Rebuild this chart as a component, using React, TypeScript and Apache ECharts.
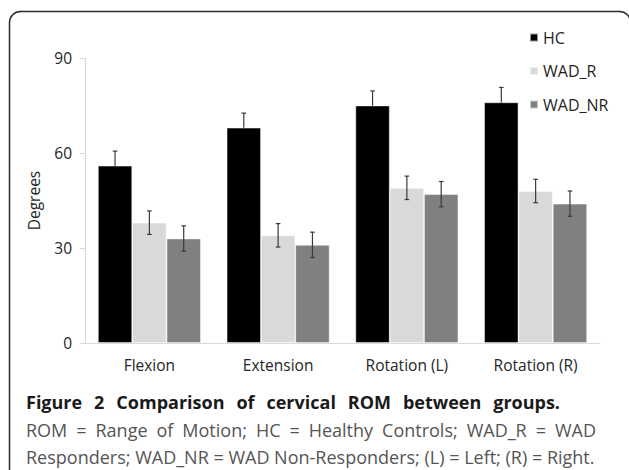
import React, { useEffect, useRef } from "react";
import * as echarts from "echarts";

const categories = ["Flexion", "Extension", "Rotation (L)", "Rotation (R)"];
const seriesNames = ["HC", "WAD_R", "WAD_NR"];
const hcValues = [56, 68, 75, 76];
const wadRValues = [38, 34, 49, 48];
const wadNrValues = [33, 31, 47, 44];
const hcErrors = [4.6, 4.6, 4.6, 4.7];
const wadRErrors = [3.7, 3.7, 3.7, 3.7];
const wadNrErrors = [4, 4, 4, 4];
const yTicks = [0, 30, 60, 90];
const titleText = "Figure 2 Comparison of cervical ROM between groups.";
const captionLines = [
  "ROM = Range of Motion; HC = Healthy Controls; WAD_R = WAD",
  "Responders; WAD_NR = WAD Non-Responders; (L) = Left; (R) = Right.",
];

const FONT = '"Open Sans", "DejaVu Sans", sans-serif';
const barColors = ["#000000", "#d9d9d9", "#808080"];

function justified(
  text: string,
  size: number,
  weight: string,
  x0: number,
  x1: number | null,
  y: number,
  fill: string
) {
  const canvas = document.createElement("canvas");
  const ctx = canvas.getContext("2d")!;
  ctx.font = `${weight} ${size}px ${FONT}`;
  const words = text.split(" ");
  const widths = words.map((w) => ctx.measureText(w).width);
  const spaceW = ctx.measureText(" ").width;
  const total = widths.reduce((a, b) => a + b, 0);
  const gap = x1 === null ? spaceW : (x1 - x0 - total) / (words.length - 1);
  let x = x0;
  return words.map((w, i) => {
    const el = {
      type: "text",
      x,
      y,
      silent: true,
      style: {
        text: w,
        fontSize: size,
        fontFamily: FONT,
        fontWeight: weight,
        fill,
        align: "left",
        verticalAlign: "middle",
        textAlign: "left",
        textVerticalAlign: "middle",
      },
    };
    x += widths[i] + gap;
    return el;
  });
}

function errorSeries(idx: number, values: number[], errors: number[]) {
  return {
    type: "custom",
    name: seriesNames[idx] + "_err",
    data: values.map((v, i) => [i, v, errors[i]]),
    encode: { x: 0, y: 1 },
    z: idx === 0 ? 1 : 10,
    silent: true,
    renderItem: (params: any, api: any) => {
      const ci = api.value(0);
      const v = api.value(1);
      const e = api.value(2);
      const band = api.size([1, 0])[0];
      const bw = (band * 0.8) / 3;
      const offset = (idx - 1) * bw;
      const top = api.coord([ci, v + e]);
      const bot = api.coord([ci, v - e]);
      const x = top[0] + offset;
      const h = 2.3;
      const st = { stroke: "#3a3a3a", lineWidth: 1.2 };
      return {
        type: "group",
        children: [
          { type: "line", shape: { x1: x, y1: top[1], x2: x, y2: bot[1] }, style: st },
          { type: "line", shape: { x1: x - h, y1: top[1], x2: x + h, y2: top[1] }, style: st },
          { type: "line", shape: { x1: x - h, y1: bot[1], x2: x + h, y2: bot[1] }, style: st },
        ],
      };
    },
  };
}

export default function App() {
  const ref = useRef<HTMLDivElement>(null);
  useEffect(() => {
    if (!ref.current) return;
    const chart = echarts.init(ref.current, null, { renderer: "svg" });
    const valuesList = [hcValues, wadRValues, wadNrValues];
    const errorsList = [hcErrors, wadRErrors, wadNrErrors];
    const graphics: any[] = [
      {
        type: "rect",
        silent: true,
        z: -1,
        shape: { x: 9.5, y: 11.5, width: 621, height: 540, r: 11 },
        style: { fill: "none", stroke: "#2b2b2b", lineWidth: 1.5 },
      },
      ...justified(titleText, 18, "bold", 26, 560, 401.5, "#1a1a1a"),
      ...justified(captionLines[0], 18, "normal", 26, 596, 430, "#555555"),
      ...justified(captionLines[1], 18, "normal", 26, null, 456.5, "#555555"),
    ];
    chart.setOption({
      animation: false,
      textStyle: { fontFamily: FONT },
      grid: { left: 85, right: 29, top: 58, bottom: 127, containLabel: false },
      legend: {
        data: seriesNames,
        orient: "vertical",
        left: 524,
        top: 24,
        icon: "rect",
        itemWidth: 8,
        itemHeight: 8,
        itemGap: 16.5,
        textStyle: { fontSize: 16, color: "#1f1f1f", fontFamily: FONT, lineHeight: 17 },
        selectedMode: false,
      },
      xAxis: {
        type: "category",
        data: categories,
        axisLine: { lineStyle: { color: "#d9d9d9", width: 1.2 } },
        axisTick: { show: false },
        axisLabel: { fontSize: 15.5, color: "#262626", margin: 13, lineHeight: 18, fontFamily: FONT },
      },
      yAxis: {
        type: "value",
        min: yTicks[0],
        max: yTicks[yTicks.length - 1],
        interval: yTicks[1] - yTicks[0],
        name: "Degrees",
        nameLocation: "middle",
        nameGap: 43,
        nameRotate: 90,
        nameTextStyle: { fontSize: 15.5, color: "#262626", fontFamily: FONT },
        axisLine: { show: true, lineStyle: { color: "#d9d9d9", width: 1.2 } },
        axisTick: { show: true, length: 5, lineStyle: { color: "#d9d9d9" } },
        splitLine: { show: false },
        axisLabel: { fontSize: 15.5, color: "#262626", margin: 13, fontFamily: FONT },
      },
      series: [
        ...seriesNames.map((name, i) => ({
          type: "bar",
          name,
          data: valuesList[i],
          barGap: "0%",
          barCategoryGap: "20%",
          z: 2,
          itemStyle: {
            color: barColors[i],
            borderColor: "rgba(255,255,255,0.6)",
            borderWidth: 0.8,
          },
          silent: true,
        })),
        ...seriesNames.map((_, i) => errorSeries(i, valuesList[i], errorsList[i])),
      ],
      graphic: graphics,
    });
    return () => chart.dispose();
  }, []);
  return (
    <div
      ref={ref}
      style={{ position: "absolute", left: 0, top: 0, width: 629, height: 470, background: "#ffffff" }}
    />
  );
}
